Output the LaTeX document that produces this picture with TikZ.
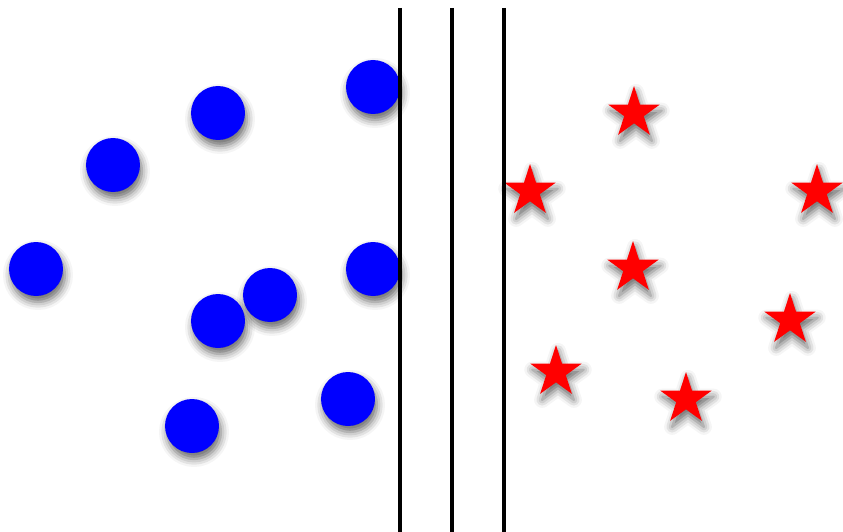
\documentclass[tikz,border=0pt]{standalone}
\usetikzlibrary{shadows.blur}
\begin{document}
\begin{tikzpicture}[x=1pt,y=-1pt,
  sh/.style={blur shadow={shadow xshift=2pt, shadow yshift=-6pt, shadow blur radius=8pt, shadow opacity=60}},
  dot/.style={circle, fill={rgb,255:red,0;green,0;blue,255}, inner sep=0pt, minimum size=54pt, sh},
  starfill/.style={fill={rgb,255:red,255;green,0;blue,0}, sh},
  wall/.style={line width=4pt, black}]
\useasboundingbox (0,0) rectangle (843,532);
\node[dot] (c1) at (373,87) {};
\node[dot] (c2) at (218,113) {};
\node[dot] (c3) at (113,165) {};
\node[dot] (c4) at (36,269) {};
\node[dot] (c5) at (373,269) {};
\node[dot] (c6) at (270,295) {};
\node[dot] (c7) at (218,321) {};
\node[dot] (c8) at (348,399) {};
\node[dot] (c9) at (192,426) {};
\coordinate (s1) at (634,113);
\coordinate (s2) at (530,191);
\coordinate (s3) at (817,191);
\coordinate (s4) at (633,268);
\coordinate (s5) at (790,320);
\coordinate (s6) at (556,372);
\coordinate (s7) at (686,399);
\foreach \s in {s1,s2,s3,s4,s5,s6,s7}{
  \path[starfill] (\s) +(-90:27) -- +(-54:10.3) -- +(-18:27) -- +(18:10.3) -- +(54:27)
    -- +(90:10.3) -- +(126:27) -- +(162:10.3) -- +(198:27) -- +(234:10.3) -- cycle;
}
\coordinate (l1t) at (400,8); \coordinate (l1b) at (400,532);
\coordinate (l2t) at (452,8); \coordinate (l2b) at (452,532);
\coordinate (l3t) at (504,8); \coordinate (l3b) at (504,532);
\draw[wall] (l1t) -- (l1b);
\draw[wall] (l2t) -- (l2b);
\draw[wall] (l3t) -- (l3b);
\end{tikzpicture}
\end{document}
